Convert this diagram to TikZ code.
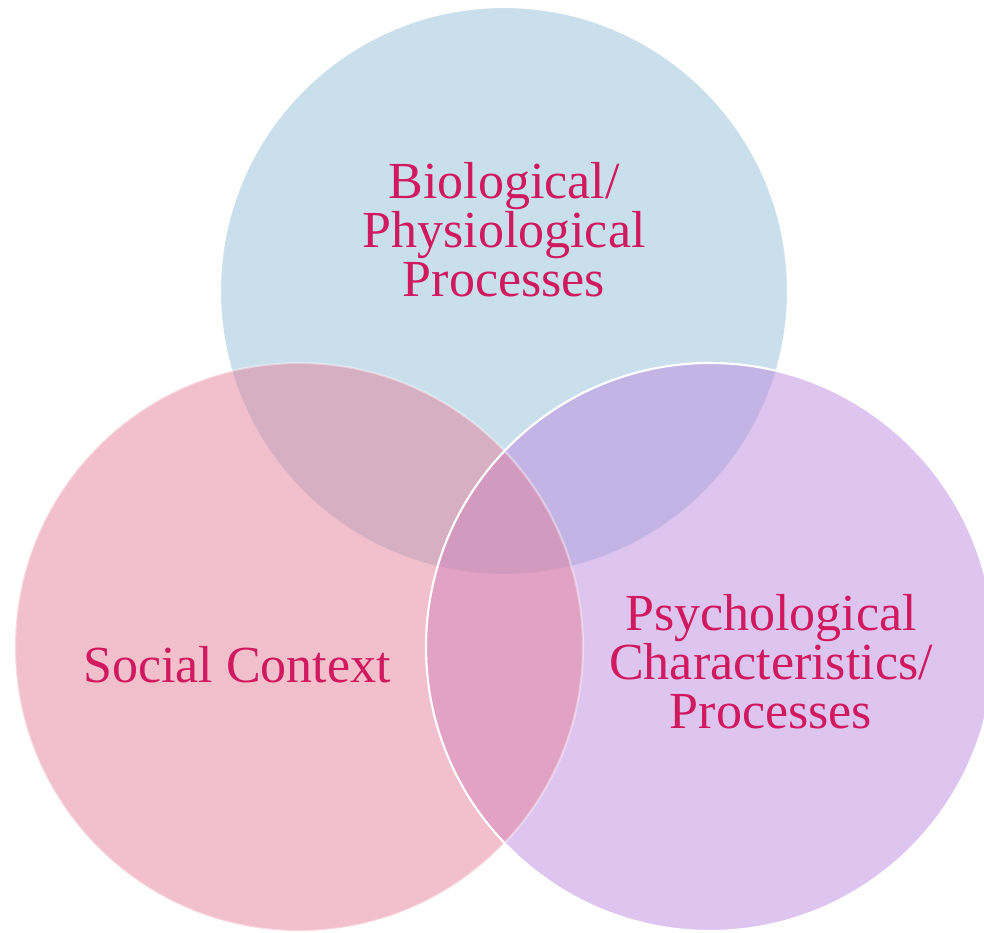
\documentclass[tikz,border=0pt]{standalone}
\usepackage{fontspec}
\setmainfont{Liberation Serif}
\definecolor{bioblue}{HTML}{93BFD9}
\definecolor{socpink}{HTML}{E58199}
\definecolor{psylav}{HTML}{BD8BDF}
\definecolor{labelred}{HTML}{D0195E}
\begin{document}
\begin{tikzpicture}[
    ring/.style={circle, minimum size=5.68cm, inner sep=0pt, fill opacity=0.5},
    label/.style={text=labelred, align=center, inner sep=0pt,
      font={\fontsize{14.8}{13.9}\selectfont}}
  ]
        \useasboundingbox (0,0) rectangle (9.84,9.32);
        \clip (0,0) rectangle (9.84,9.32);

        \node[ring, fill=bioblue, draw=white, line width=0.6pt] (bio) at (5.04,6.41) {};
        \node[ring, fill=psylav] (psy) at (7.10,2.85) {};
        \node[ring, fill=socpink, draw=white, draw opacity=0.4, line width=0.6pt] (soc) at (2.99,2.85) {};
        \draw[white, line width=0.6pt] (psy) circle (2.84);

        \node[label] (biotext) at (5.04,7.02) {Biological/\\Physiological\\Processes};
        \node[label] (soctext) at (2.37,2.67) {Social Context};
        \node[label] (psytext) at (7.71,2.70) {Psychological\\Characteristics/\\Processes};
      \end{tikzpicture}
\end{document}
